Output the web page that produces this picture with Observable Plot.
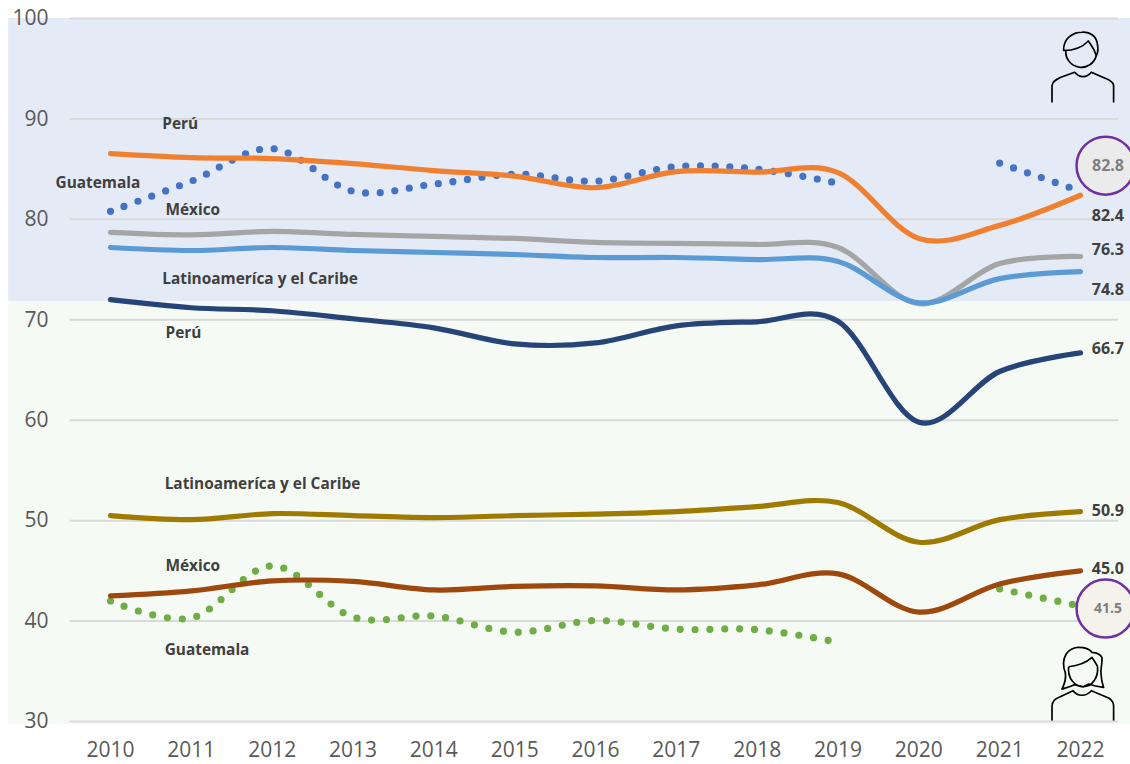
<!DOCTYPE html>
<html><head><meta charset="utf-8">
<script src="https://cdn.jsdelivr.net/npm/d3@7"></script>
<script src="https://cdn.jsdelivr.net/npm/@observablehq/plot@0.6"></script>
<style>html,body{margin:0;background:#fff}svg{display:block}</style>
</head><body><div id="chart"></div>
<script>
const years = [2010,2011,2012,2013,2014,2015,2016,2017,2018,2019,2020,2021,2022];
const yTicks = [30,40,50,60,70,80,90,100];
const peruM = [86.55,86.15,86.05,85.55,84.85,84.3,83.15,84.75,84.7,84.65,78.1,79.4,82.4];
const mexicoM = [78.7,78.45,78.8,78.5,78.3,78.1,77.7,77.6,77.5,77.2,71.6,75.6,76.3];
const lacM = [77.2,76.9,77.2,76.9,76.7,76.5,76.2,76.2,76.0,75.8,71.7,74.1,74.8];
const guatemalaM = [80.8,83.8,87.05,82.8,83.5,84.5,83.8,85.25,85.0,83.6,null,85.6,82.8];
const peruF = [72.0,71.2,70.9,70.1,69.2,67.6,67.7,69.4,69.8,69.85,59.8,64.85,66.7];
const lacF = [50.5,50.1,50.7,50.5,50.3,50.5,50.65,50.9,51.4,51.8,47.85,50.1,50.9];
const mexicoF = [42.5,43.0,44.0,43.95,43.1,43.45,43.5,43.1,43.6,44.7,40.9,43.7,45.0];
const guatemalaF = [42.0,40.3,45.5,40.4,40.5,38.9,40.05,39.2,39.15,37.9,null,43.2,41.5];

const solidSeries = [
  [mexicoM,"#A5A5A5"],[lacM,"#5B9BD5"],[peruM,"#F08030"],
  [peruF,"#264478"],[lacF,"#9E7B00"],[mexicoF,"#9E480E"]
];
const dottedBefore = [[guatemalaM,"#4472C4","0 14.7"],[guatemalaF,"#70AD47","0 14.86"]];

const seriesLabels = ["Perú","Guatemala","México","Latinoamerica y el Caribe","Perú","Latinoamerica y el Caribe","México","Guatemala"]
  .map(s => s.replace("Latinoamerica","Latinoamerica".replace("ica","íca")));
const seriesLabelX = [2010.64,2009.32,2010.68,2010.64,2010.68,2010.67,2010.68,2010.67];
const seriesLabelY = [89.44,83.57,80.88,74.1,68.7,53.6,45.5,37.15];

const endLabels = ["82.4","76.3","74.8","66.7","50.9","45.0"];
const endLabelY = [80.35,76.95,73.0,67.15,51.0,45.2];
const endLabelX = 2022.14;

const circleText = ["82.8","41.5"];
const circleTextSize = [16,14];
const circleY = [85.35,41.25];
const circleFill = ["#ECEBEC","#F5F1EB"];
const circleX = 2022.31;

const bandTop = [100,71.8];
const bandBottom = [71.8,29.7];
const bandFill = ["#E4EAF6","#F5FAF4"];

const manSvg = `<svg xmlns="http://www.w3.org/2000/svg" width="70" height="75" viewBox="0 0 70 75"><g fill="none" stroke="#000" stroke-width="1.7" stroke-linejoin="round"><path d="M19.5 22A15.5 15.5 0 0 0 50 27"/><path d="M17.3 22C17 10 26 4 36 3.7C44 3 50 8 51 15C52 20 52 24 50 27C48 20 45 17 42 12.5C36 19 28 22 17.3 22Z"/><path d="M5.7 74V57C6 53 10 51 14 49L28.3 43.7C32 48 39 51 45 43.7L62.3 51.3C65 53 67.3 54 67.3 57V74"/></g></svg>`;
const womanSvg = `<svg xmlns="http://www.w3.org/2000/svg" width="70" height="80" viewBox="0 0 70 80"><g fill="none" stroke="#000" stroke-width="1.7" stroke-linejoin="round"><path d="M22.3 26C21 38 29 46 37 46C46 46 52 37 51.3 26"/><path d="M22.3 26C32 25 40 22 45.7 16.7C48 20 50 23 51.3 26"/><path d="M15.7 48.3C19 42 20 38 19 32C16 24 17 18 20 13C24 8 28 6.7 32.3 6.7C38 6.7 43 8 45.7 11.7C50 12 54 13 55.7 17C56 24 54 28 54.7 33.3C55 39 56 43 57.3 46.7C52 46 47 45 42.3 43.3L37 46L28 44C24 46 20 47 15.7 48.3Z"/><path d="M5.7 80V65C6 61 9 58 12.3 56.7L26.7 50C31 56 40 56 45 50L62.3 57.3C65 59 67.3 62 67.3 65V80"/></g></svg>`;
const uri = s => "data:image/svg+xml;utf8," + encodeURIComponent(s);
const iconY = [95.27,34.06];
const iconSrc = [uri(manSvg),uri(womanSvg)];
const iconH = [75,80];

const table = v => years.map((x,i)=>({x,y:v[i]}));

const marks = [
  Plot.rect(bandFill,{x1:()=>2008.74,x2:()=>2022.62,y1:(d,i)=>bandTop[i],y2:(d,i)=>bandBottom[i],fill:d=>d}),
  Plot.ruleY(yTicks,{x1:()=>2009.5,x2:()=>2022.47,stroke:"#D9D9D9",strokeWidth:2}),
  Plot.axisX({ticks:years,tickFormat:"d",tickSize:0,tickPadding:21,fontSize:21,stroke:null,fill:"#595959",label:null}),
  Plot.axisY({ticks:yTicks,tickSize:0,tickPadding:62,fontSize:21,fill:"#595959",label:null}),
  ...dottedBefore.map(([v,c,d])=>Plot.line(table(v),{x:"x",y:"y",curve:"cardinal",stroke:c,strokeWidth:7.2,strokeLinecap:"round",strokeDasharray:d})),
  ...solidSeries.map(([v,c])=>Plot.line(table(v),{x:"x",y:"y",curve:"cardinal",stroke:c,strokeWidth:5.2,strokeLinecap:"round"})),
  Plot.dot(circleText,{x:()=>circleX,y:(d,i)=>circleY[i],r:29,fill:(d,i)=>circleFill[i],stroke:"#7030A0",strokeWidth:2.5}),
  Plot.text(circleText,{x:()=>circleX+0.03,y:(d,i)=>circleY[i],text:d=>d,fontSize:(d,i)=>circleTextSize[i],fontWeight:700,fill:"#7F7F7F"}),
  Plot.text(seriesLabels,{x:(d,i)=>seriesLabelX[i],y:(d,i)=>seriesLabelY[i],text:d=>d,textAnchor:"start",fontSize:15.4,fontWeight:700,fill:"#404040"}),
  Plot.text(endLabels,{x:()=>endLabelX,y:(d,i)=>endLabelY[i],text:d=>d,textAnchor:"start",fontSize:16,fontWeight:700,fill:"#404040"}),
  Plot.image(iconSrc,{x:()=>2022.01,y:(d,i)=>iconY[i],src:d=>d,width:70,height:(d,i)=>iconH[i]})
];

const chart = Plot.plot({
  width:1130,height:764,marginLeft:110,marginRight:50,marginTop:18,marginBottom:43,
  style:{fontFamily:"'Open Sans',sans-serif",background:"#fff",overflow:"hidden"},
  x:{domain:[2010,2022],axis:null},
  y:{domain:[30,100],axis:null},
  color:{type:"identity"},
  marks
});
document.getElementById("chart").appendChild(chart);
</script></body></html>
